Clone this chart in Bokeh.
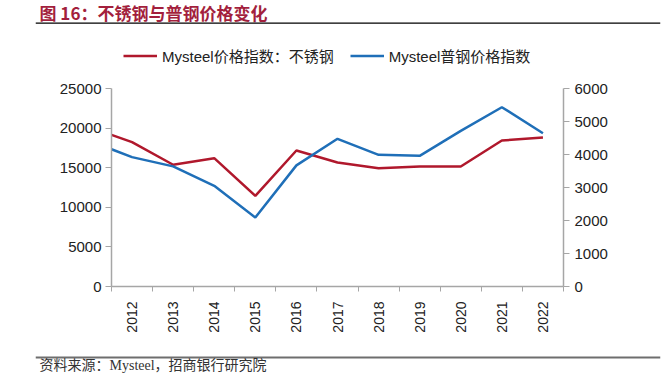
import math
from bokeh.plotting import figure
from bokeh.layouts import column
from bokeh.models import (Range1d, LinearAxis, FixedTicker, Legend, LegendItem,
                          Label, Span, ColumnDataSource)
from bokeh.embed import file_html
from bokeh.resources import INLINE

# ---- data ----
years = [2011.5, 2012, 2013, 2014, 2015, 2016, 2017, 2018, 2019, 2020, 2021, 2022]
stainless = [19150, 18220, 15370, 16200, 11450, 17170, 15660, 14940, 15150, 15150, 18430, 18810]
ordinary = [4160, 3920, 3640, 3050, 2090, 3670, 4475, 3990, 3960, 4717, 5433, 4646]
tick_years = list(range(2012, 2023))
left_ticks = [0, 5000, 10000, 15000, 20000, 25000]
right_ticks = [0, 1000, 2000, 3000, 4000, 5000, 6000]
title_text = "图 16：不锈钢与普钢价格变化"
source_text = "资料来源：Mysteel，招商银行研究院"
name_stainless = "Mysteel价格指数：不锈钢"
name_ordinary = "Mysteel普钢价格指数"

RED = "#B0182C"
BLUE = "#1F6FB8"
AXIS = "#A6A6A6"
TXT = "#222222"
FONT = "Liberation Sans, Noto Sans CJK SC"
W = 663


def blank(h, yr):
    f = figure(width=W, height=h, output_backend="svg", toolbar_location=None,
               x_range=Range1d(0, 625), y_range=Range1d(yr, 0),
               min_border_left=35, min_border_right=3, min_border_top=0,
               min_border_bottom=0, x_axis_location=None, y_axis_location=None)
    f.outline_line_color = None
    f.grid.visible = False
    f.frame_align = False
    return f


# ---- header: title, rule, legend ----
top = blank(75, 75)
top.add_layout(Label(x=4, y=11.5, text=title_text, text_font="Noto Sans CJK SC",
                     text_font_style="bold", text_font_size="17px",
                     text_color="#A31F3D", text_baseline="middle"))
top.add_layout(Span(location=22.7, dimension="width", line_color="black", line_width=1.3))
nan = float("nan")
d1 = top.line(x=[nan], y=[nan], line_color=RED, line_width=2.5)
d2 = top.line(x=[nan], y=[nan], line_color=BLUE, line_width=2.5)
legend = Legend(items=[LegendItem(label=name_stainless, renderers=[d1]),
                       LegendItem(label=name_ordinary, renderers=[d2])],
                orientation="horizontal", location=(88, 9),
                border_line_color=None, background_fill_alpha=0,
                padding=0, margin=0, spacing=16, glyph_width=34, glyph_height=17,
                label_standoff=5, label_text_font=FONT, label_text_font_size="15px",
                label_text_color=TXT)
top.add_layout(legend, "center")

# ---- main chart ----
src = ColumnDataSource(dict(x=years, s=stainless, o=ordinary))
fig = figure(width=W, height=265, output_backend="svg", toolbar_location=None,
             x_range=Range1d(2011.5, 2022.5), y_range=Range1d(0, 25000),
             min_border_left=111, min_border_right=100, min_border_top=13,
             min_border_bottom=54, x_axis_location=None, y_axis_location=None)
fig.extra_y_ranges = {"right": Range1d(0, 6000)}
fig.outline_line_color = None
fig.grid.visible = False
fig.frame_align = False

xax = LinearAxis(ticker=FixedTicker(ticks=tick_years,
                                    minor_ticks=[y - 0.5 for y in tick_years] + [2022.5]))
xax.major_label_overrides = {y: str(y) for y in tick_years}
xax.major_tick_line_color = None
xax.minor_tick_line_color = AXIS
xax.minor_tick_in = 0
xax.minor_tick_out = 5
xax.axis_line_color = AXIS
xax.axis_line_width = 1.5
xax.major_label_orientation = math.pi / 2
xax.major_label_standoff = 9
xax.major_label_text_font = FONT
xax.major_label_text_font_size = "14px"
xax.major_label_text_color = TXT
fig.add_layout(xax, "below")

lax = LinearAxis(ticker=FixedTicker(ticks=left_ticks, minor_ticks=[]))
lax.axis_line_color = AXIS
lax.axis_line_width = 1.5
lax.major_tick_line_color = AXIS
lax.major_tick_in = 0
lax.major_tick_out = 6
lax.major_label_standoff = 4
lax.major_label_text_font = FONT
lax.major_label_text_font_size = "15px"
lax.major_label_text_color = TXT
fig.add_layout(lax, "left")

rax = LinearAxis(y_range_name="right", ticker=FixedTicker(ticks=right_ticks, minor_ticks=[]))
rax.axis_line_color = AXIS
rax.axis_line_width = 1.5
rax.major_tick_line_color = AXIS
rax.major_tick_in = 0
rax.major_tick_out = 6
rax.major_label_standoff = 5
rax.major_label_text_font = FONT
rax.major_label_text_font_size = "15px"
rax.major_label_text_color = TXT
fig.add_layout(rax, "right")

fig.line("x", "s", source=src, line_color=RED, line_width=2.5)
fig.line("x", "o", source=src, line_color=BLUE, line_width=2.5, y_range_name="right")

# ---- footer: rule and source ----
bot = blank(42, 42)
bot.add_layout(Span(location=17, dimension="width", line_color="#6E6E6E", line_width=2))
bot.add_layout(Label(x=4, y=25, text=source_text,
                     text_font="Liberation Serif, Noto Sans CJK SC",
                     text_font_size="14px", text_color="#333333", text_baseline="middle"))

p = column(top, fig, bot, spacing=0)
open("out.html", "w").write(file_html(p, INLINE))
